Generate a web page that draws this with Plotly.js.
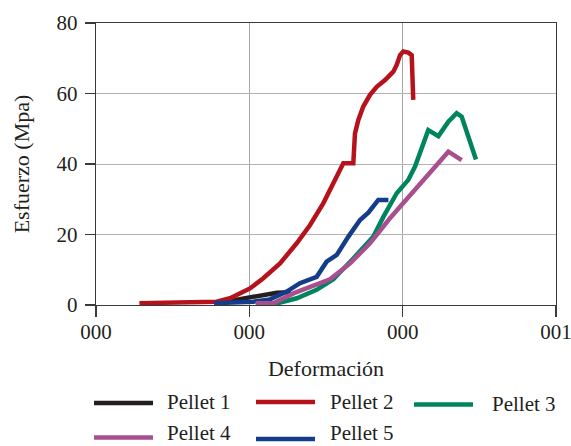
<!DOCTYPE html>
<html>
<head>
<meta charset="utf-8">
<script src="https://cdn.plot.ly/plotly-3.0.1.min.js"></script>
<style>html,body{margin:0;padding:0;background:#fff;}#chart{width:571px;height:446px;}</style>
</head>
<body>
<div id="chart"></div>
<script>
// Series names and colours
const names = ["Pellet 1", "Pellet 2", "Pellet 3", "Pellet 4", "Pellet 5"];
const colors = ["#231f20", "#b5121b", "#00845e", "#a8508f", "#133c8b"];

// Axis tick labels (x positions are category-like steps 0..3)
const xTickVals = [0, 1, 2, 3];
const xTickText = ["000", "000", "000", "001"];
const yTickVals = [0, 20, 40, 60, 80];

// Pellet 1 (black)
const p1x = [0.80, 0.94, 1.09, 1.18, 1.27];
const p1y = [0.6, 1.6, 2.55, 3.5, 3.6];

// Pellet 2 (red)
const p2x = [0.283, 0.787, 0.874, 1.004, 1.091, 1.2, 1.309, 1.396, 1.483, 1.57, 1.613, 1.678, 1.689, 1.711, 1.743, 1.787, 1.831, 1.885, 1.939, 1.961, 1.983, 2.004, 2.037, 2.059, 2.069];
const p2y = [0.5, 0.95, 1.9, 4.7, 7.6, 11.8, 17.5, 22.7, 28.9, 36.4, 40.2, 40.2, 48.7, 52.5, 56.3, 59.6, 61.9, 63.8, 66.2, 68.1, 70.9, 71.9, 71.6, 70.9, 58.2];

// Pellet 3 (green)
const p3x = [1.167, 1.309, 1.439, 1.548, 1.678, 1.809, 1.874, 1.961, 2.037, 2.08, 2.167, 2.233, 2.298, 2.352, 2.385, 2.478];
const p3y = [0.3, 1.9, 4.3, 7.3, 13.2, 19.4, 25.0, 31.7, 35.5, 39.2, 49.6, 47.9, 52.0, 54.4, 53.4, 41.3];

// Pellet 4 (pink)
const p4x = [1.041, 1.157, 1.287, 1.396, 1.526, 1.657, 1.787, 1.917, 2.298, 2.385];
const p4y = [0.5, 0.5, 3.3, 5.2, 7.3, 11.8, 17.5, 24.6, 43.5, 41.1];

// Pellet 5 (blue)
const p5x = [0.77, 1.026, 1.135, 1.244, 1.33, 1.439, 1.504, 1.57, 1.646, 1.722, 1.776, 1.841, 1.907];
const p5y = [0.5, 0.95, 1.6, 3.8, 6.2, 8.0, 12.3, 14.2, 19.4, 24.1, 26.2, 29.8, 29.8];

const xs = [p1x, p2x, p3x, p4x, p5x];
const ys = [p1y, p2y, p3y, p4y, p5y];
const drawOrder = [0, 1, 4, 2, 3];

const FONT = "Liberation Serif, DejaVu Serif, serif";
const TXT = "#231f20";

const traces = drawOrder.map(i => ({
  x: xs[i], y: ys[i], name: names[i], type: "scatter", mode: "lines",
  line: {color: colors[i], width: 4.5},
  showlegend: false
}));

// Manual legend (3 columns, 2 rows) in paper coordinates
const legPos = [
  {lx0: 94, lx1: 153, ly: 403, tx: 166, ty: 401.5},
  {lx0: 256, lx1: 315, ly: 402, tx: 329, ty: 401.5},
  {lx0: 414, lx1: 473, ly: 404.5, tx: 491, ty: 404.5},
  {lx0: 94, lx1: 153, ly: 437.5, tx: 166, ty: 433},
  {lx0: 256, lx1: 315, ly: 439, tx: 329, ty: 433}
];
const L = 96, R = 556, T = 23, B = 305;
const px2x = px => (px - L) / (R - L);
const py2y = py => (B - py) / (B - T);

const shapes = [];
const annotations = [];
names.forEach((n, i) => {
  const p = legPos[i];
  shapes.push({type: "line", xref: "paper", yref: "paper",
    x0: px2x(p.lx0), x1: px2x(p.lx1), y0: py2y(p.ly), y1: py2y(p.ly),
    line: {color: colors[i], width: 4.5}});
  annotations.push({xref: "paper", yref: "paper", x: px2x(p.tx), y: py2y(p.ty),
    xanchor: "left", yanchor: "middle", showarrow: false, text: n, borderpad: 0,
    font: {family: FONT, size: 21, color: TXT}});
});

const layout = {
  width: 571, height: 446,
  margin: {l: L, r: 571 - R, t: T, b: 446 - B},
  paper_bgcolor: "#fff", plot_bgcolor: "#fff",
  showlegend: false,
  font: {family: FONT, size: 21, color: TXT},
  xaxis: {
    range: [0, 3], tickvals: xTickVals, ticktext: xTickText,
    ticklabeloverflow: "allow",
    showgrid: true, gridcolor: "#a6a6a6", gridwidth: 1,
    showline: true, linecolor: "#3a3a3a", linewidth: 1.3, mirror: true,
    ticks: "outside", ticklen: 11, tickcolor: "#3a3a3a", tickwidth: 1.3,
    ticklabelstandoff: -4,
    zeroline: false,
    tickfont: {family: FONT, size: 21, color: TXT},
    title: {text: "Deformación", font: {family: FONT, size: 22, color: TXT}, standoff: 18}
  },
  yaxis: {
    range: [0, 80], tickvals: yTickVals,
    showgrid: true, gridcolor: "#b3b3b3", gridwidth: 1,
    showline: true, linecolor: "#3a3a3a", linewidth: 1.3, mirror: true,
    ticks: "outside", ticklen: 10, tickcolor: "#3a3a3a", tickwidth: 1.3,
    ticklabelstandoff: 3,
    zeroline: false,
    tickfont: {family: FONT, size: 21, color: TXT},
    title: {text: "Esfuerzo (Mpa)", font: {family: FONT, size: 22, color: TXT}, standoff: 20}
  },
  shapes: shapes,
  annotations: annotations
};

Plotly.newPlot("chart", traces, layout, {staticPlot: true, displayModeBar: false});
</script>
</body>
</html>
